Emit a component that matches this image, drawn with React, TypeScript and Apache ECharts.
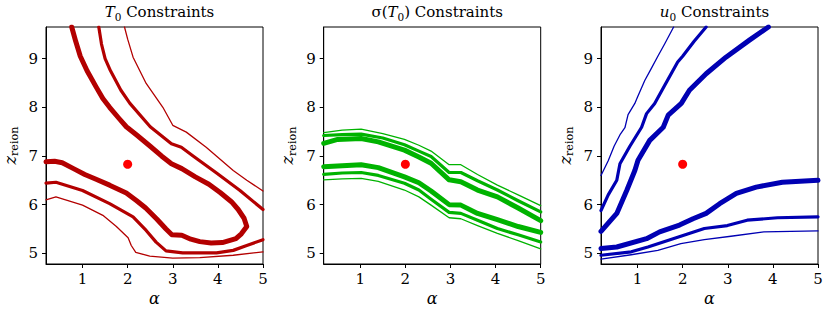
import React, { useEffect, useRef } from "react";
import * as echarts from "echarts";

const X_MIN = 0.19;
const X_MAX = 5;
const Y_MIN = 4.78;
const Y_MAX = 9.65;
const X_TICKS = [1, 2, 3, 4, 5];
const Y_TICKS = [5, 6, 7, 8, 9];
const TRUE_POINT = [2, 6.83];

const TITLES = ["{i|T}{s|0}{n| Constraints}", "{n|σ(}{i|T}{s|0}{n|) Constraints}", "{i|u}{s|0}{n| Constraints}"];
const COLORS = ["#b30000", "#00b300", "#0000b3"];

// Panel 1: T0 constraints
const t0Inner = [[0.76,9.65],[0.85,9.35],[0.95,9.05],[1.1,8.75],[1.3,8.42],[1.45,8.18],[1.6,8.0],[1.8,7.78],[1.97,7.6],[2.2,7.43],[2.5,7.2],[2.75,7.0],[2.97,6.84],[3.2,6.74],[3.5,6.57],[3.8,6.42],[4.05,6.25],[4.3,6.06],[4.45,5.9],[4.58,5.72],[4.64,5.55],[4.52,5.4],[4.4,5.3],[4.1,5.22],[3.85,5.21],[3.6,5.24],[3.4,5.29],[3.2,5.37],[2.98,5.38],[2.85,5.5],[2.65,5.7],[2.4,5.93],[2.2,6.08],[1.97,6.24],[1.6,6.4],[1.3,6.52],[1.05,6.62],[0.8,6.74],[0.55,6.86],[0.38,6.89],[0.19,6.88]];
const t0MidUpper = [[1.36,9.65],[1.42,9.3],[1.5,9.0],[1.62,8.75],[1.85,8.35],[2.05,8.08],[2.5,7.6],[2.97,7.25],[3.19,7.18],[3.45,7.0],[3.97,6.65],[4.49,6.29],[5.0,5.9]];
const t0MidLower = [[0.19,6.44],[0.41,6.46],[1.0,6.29],[1.6,6.02],[2.12,5.75],[2.41,5.47],[2.63,5.23],[2.85,5.05],[3.22,5.01],[3.97,5.01],[4.34,5.06],[4.64,5.16],[5.0,5.28]];
const t0OutUpper = [[1.93,9.65],[2.0,9.4],[2.12,9.03],[2.41,8.49],[2.78,8.0],[3.0,7.63],[3.3,7.49],[3.74,7.18],[4.34,6.7],[4.64,6.5],[5.0,6.28]];
const t0OutLower = [[0.19,6.1],[0.41,6.16],[1.0,5.99],[1.45,5.78],[1.75,5.55],[2.01,5.32],[2.08,5.16],[2.18,5.02],[2.49,4.94],[3.0,4.9],[3.6,4.91],[4.34,4.96],[5.0,5.03]];

// Panel 2: sigma(T0) constraints
const sgTopThin = [[0.19,7.48],[0.6,7.53],[1.02,7.55],[1.5,7.46],[1.98,7.34],[2.3,7.22],[2.57,7.1],[2.97,6.82],[3.23,6.82],[3.6,6.62],[4.04,6.4],[4.5,6.2],[5,5.98]];
const sgTopMed = [[0.19,7.42],[0.6,7.44],[1.02,7.45],[1.5,7.37],[1.98,7.23],[2.3,7.1],[2.57,6.99],[2.97,6.66],[3.23,6.66],[3.6,6.49],[4.04,6.3],[4.5,6.08],[5,5.85]];
const sgTopThick = [[0.19,7.26],[0.5,7.34],[1.02,7.36],[1.4,7.29],[1.98,7.12],[2.3,6.98],[2.57,6.85],[2.97,6.51],[3.23,6.47],[3.6,6.3],[4.04,6.16],[4.5,5.93],[5,5.67]];
const sgLowThick = [[0.19,6.78],[0.6,6.8],[1.02,6.82],[1.4,6.76],[1.98,6.57],[2.3,6.45],[2.57,6.28],[2.97,6.0],[3.23,5.99],[3.6,5.82],[4.04,5.69],[4.5,5.55],[5,5.43]];
const sgLowMed = [[0.19,6.62],[0.6,6.65],[1.02,6.66],[1.4,6.6],[1.98,6.44],[2.3,6.3],[2.57,6.11],[2.97,5.84],[3.23,5.82],[3.6,5.68],[4.04,5.51],[4.5,5.38],[5,5.23]];
const sgLowThin = [[0.19,6.51],[0.6,6.53],[1.02,6.54],[1.4,6.48],[1.98,6.3],[2.3,6.16],[2.57,5.99],[2.97,5.73],[3.23,5.71],[3.6,5.57],[4.04,5.41],[4.5,5.26],[5,5.09]];

// Panel 3: u0 constraints
const u0UpThin = [[0.19,6.6],[0.35,6.9],[0.48,7.2],[0.62,7.45],[0.72,7.58],[0.79,7.85],[0.94,8.08],[1.0,8.21],[1.16,8.55],[1.3,8.79],[1.45,9.05],[1.6,9.3],[1.8,9.65]];
const u0UpMed = [[0.19,5.88],[0.35,6.2],[0.54,6.5],[0.61,6.84],[0.83,7.2],[1.09,7.59],[1.2,7.87],[1.38,8.08],[1.6,8.45],[1.89,8.93],[2.0,9.05],[2.25,9.35],[2.52,9.65]];
const u0UpThick = [[0.19,5.45],[0.35,5.62],[0.54,5.82],[0.76,6.29],[0.94,6.7],[1.01,6.91],[1.27,7.32],[1.57,7.59],[1.68,7.84],[1.97,8.08],[2.15,8.35],[2.52,8.69],[2.96,9.03],[3.48,9.38],[3.9,9.65]];
const u0LowThick = [[0.19,5.1],[0.54,5.13],[1.2,5.3],[1.49,5.44],[1.93,5.58],[2.23,5.71],[2.52,5.82],[2.82,6.02],[3.19,6.23],[3.63,6.36],[4.21,6.46],[5,6.5]];
const u0LowMed = [[0.19,4.96],[0.86,5.03],[1.23,5.13],[1.89,5.33],[2.48,5.51],[2.99,5.57],[3.43,5.68],[4.1,5.73],[5,5.75]];
const u0LowThin = [[0.19,4.88],[0.86,4.97],[1.45,5.06],[1.96,5.2],[2.48,5.28],[3.07,5.35],[3.8,5.44],[5,5.46]];

const FONT = "DejaVu Serif";
const THICK = 5;
const MED = 3.2;
const THIN = 1.3;

const PANEL_LEFTS = [46, 323.7, 601];
const PANEL_W = 217;
const PANEL_TOP = 27;
const PANEL_H = 237;

const richText = (size: number) => ({
  i: { fontFamily: FONT, fontStyle: "italic", fontWeight: "normal", fontSize: size, lineHeight: 20, color: "#000" },
  n: { fontFamily: FONT, fontWeight: "normal", fontSize: size, lineHeight: 20, color: "#000" },
  s: { fontFamily: FONT, fontWeight: "normal", fontSize: size * 0.7, lineHeight: 10, verticalAlign: "bottom", color: "#000" },
});

export default function App() {
  const ref = useRef<HTMLDivElement>(null);
  useEffect(() => {
    if (!ref.current) return;
    const chart = echarts.init(ref.current, undefined, { renderer: "svg" });
    const panels = [
      [
        [t0Inner, THICK], [t0MidUpper, MED], [t0MidLower, MED], [t0OutUpper, THIN], [t0OutLower, THIN],
      ],
      [
        [sgTopThin, THIN], [sgTopMed, MED], [sgTopThick, THICK], [sgLowThick, THICK], [sgLowMed, MED], [sgLowThin, THIN],
      ],
      [
        [u0UpThin, THIN], [u0UpMed, MED], [u0UpThick, THICK], [u0LowThick, THICK], [u0LowMed, MED], [u0LowThin, THIN],
      ],
    ] as [number[][], number][][];

    const series: any[] = [];
    panels.forEach((lines, p) => {
      lines.forEach(([data, w]) => {
        series.push({
          type: "line",
          xAxisIndex: p,
          yAxisIndex: p,
          data,
          showSymbol: false,
          symbol: "none",
          smooth: false,
          silent: true,
          lineStyle: { color: COLORS[p], width: w, join: "round", cap: "round", opacity: 1 },
          z: 2,
        });
      });
      series.push({
        type: "scatter",
        xAxisIndex: p,
        yAxisIndex: p,
        data: [TRUE_POINT],
        symbolSize: 9,
        itemStyle: { color: "#ff0000", opacity: 1 },
        silent: true,
        z: 5,
      });
    });

    const grids = PANEL_LEFTS.map((l) => ({
      left: l,
      top: PANEL_TOP,
      width: PANEL_W,
      height: PANEL_H,
      show: true,
      borderColor: "#000",
      borderWidth: 1,
      backgroundColor: "transparent",
      containLabel: false,
      outerBoundsMode: "none",
    }));

    const xAxes = PANEL_LEFTS.map((_, i) => ({
      type: "value",
      gridIndex: i,
      min: X_MIN,
      max: X_MAX,
      axisLine: { show: true, onZero: false, lineStyle: { color: "#000", width: 1 } },
      splitLine: { show: false },
      axisTick: { show: true, length: 4, customValues: X_TICKS, lineStyle: { color: "#000", width: 1 } },
      axisLabel: { customValues: X_TICKS, margin: 7, color: "#000", fontFamily: FONT, fontSize: 15, formatter: (v: number) => String(v) },
      name: "α",
      nameLocation: "middle",
      nameGap: 25,
      nameTextStyle: { fontFamily: FONT, fontStyle: "italic", fontSize: 16, color: "#000" },
    }));

    const yAxes = PANEL_LEFTS.map((_, i) => ({
      type: "value",
      gridIndex: i,
      min: Y_MIN,
      max: Y_MAX,
      axisLine: { show: true, onZero: false, lineStyle: { color: "#000", width: 1 } },
      splitLine: { show: false },
      axisTick: { show: true, length: 4, customValues: Y_TICKS, lineStyle: { color: "#000", width: 1 } },
      axisLabel: { customValues: Y_TICKS, margin: 8, color: "#000", fontFamily: FONT, fontSize: 15, formatter: (v: number) => String(v) },
      name: "{i|z}{s|reion}",
      nameLocation: "middle",
      nameRotate: 90,
      nameGap: 26,
      nameTextStyle: { rich: richText(16) },
    }));

    const titles = TITLES.map((t, i) => ({
      text: t,
      left: PANEL_LEFTS[i] + PANEL_W / 2,
      top: -3,
      textAlign: "center",
      textStyle: { fontWeight: "normal", rich: richText(15) },
    }));

    chart.setOption({
      animation: false,
      backgroundColor: "#fff",
      title: titles,
      grid: grids,
      xAxis: xAxes,
      yAxis: yAxes,
      series,
    });
    return () => chart.dispose();
  }, []);
  return <div ref={ref} style={{ position: "absolute", left: 0, top: 0, width: 830, height: 312 }} />;
}
